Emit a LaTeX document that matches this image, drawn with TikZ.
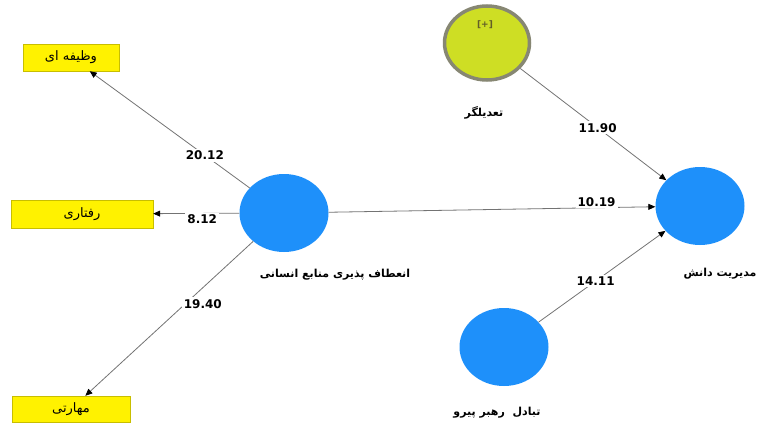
\documentclass[tikz,border=0pt]{standalone}
\usepackage{fontspec}
\setmainfont{DejaVu Sans}
\newfontfamily\farsi[Script=Arabic]{DejaVu Sans}
\TeXXeTstate=1
\usetikzlibrary{arrows.meta,shapes.geometric}
\definecolor{plsblue}{RGB}{30,144,250}
\definecolor{modfill}{RGB}{206,222,36}
\definecolor{modline}{RGB}{135,135,115}
\definecolor{boxline}{RGB}{200,190,0}
\newcommand\fa[1]{{\farsi\beginR #1\endR}}
\begin{document}
\begin{tikzpicture}[x=1pt,y=-1pt,>={Triangle[black,length=7pt,width=6pt]},
  lv/.style={ellipse,fill=plsblue,minimum width=89pt,minimum height=78pt,inner sep=0pt},
  ind/.style={rectangle,draw=boxline,fill=yellow,font=\farsi\fontsize{13}{15}\selectfont},
  edge/.style={draw=black!55,line width=0.8pt},
  w/.style={font=\bfseries\fontsize{12}{14}\selectfont,fill=white,inner sep=2pt},
  lvname/.style={font=\farsi\bfseries\fontsize{11}{13}\selectfont}]
\useasboundingbox (0,0) rectangle (768,425);

\node[ind,minimum width=96pt,minimum height=27pt] (vazife) at (71,57.5) {\fa{وظیفه ای}};
\node[ind,minimum width=142pt,minimum height=28pt] (raftari) at (82,214) {\fa{رفتاری}};
\node[ind,minimum width=118pt,minimum height=26pt] (maharati) at (71,409) {\fa{مهارتی}};

\node[lv] (monaatef) at (284,213) {};
\node[lv] (modiriat) at (700,206) {};
\node[lv] (tabadol) at (504,347) {};
\node[lv,fill=modfill,draw=modline,line width=3.5pt,minimum width=85pt,minimum height=74pt] (tadilgar) at (487,43) {};
\node[font=\bfseries\small,text=olive!60!black] (plus) at (485,25) {[+]};

\node[lvname] (monaatefname) at (335,275) {\fa{انعطاف پذیری منابع انسانی}};
\node[lvname] (modiriatname) at (720,274) {\fa{مدیریت دانش}};
\node[lvname] (tabadolname) at (497,413) {\fa{تبادل \ رهبر پیرو}};
\node[lvname] (tadilgarname) at (484,113) {\fa{تعدیلگر}};

\draw[edge,->] (monaatef) -- node[w,pos=0.28]{20.12} (vazife);
\draw[edge,->] (monaatef) -- node[w,pos=0.43,yshift=-6pt]{8.12} (raftari);
\draw[edge,->] (monaatef) -- node[w,pos=0.3,yshift=-16pt]{19.40} (maharati);
\draw[edge,->] (tadilgar) -- node[w,pos=0.53]{11.90} (modiriat);
\draw[edge,->] (monaatef) -- node[w,pos=0.82,yshift=6pt]{10.19} (modiriat);
\draw[edge,->] (tabadol) -- node[w,pos=0.45]{14.11} (modiriat);
\end{tikzpicture}
\end{document}
